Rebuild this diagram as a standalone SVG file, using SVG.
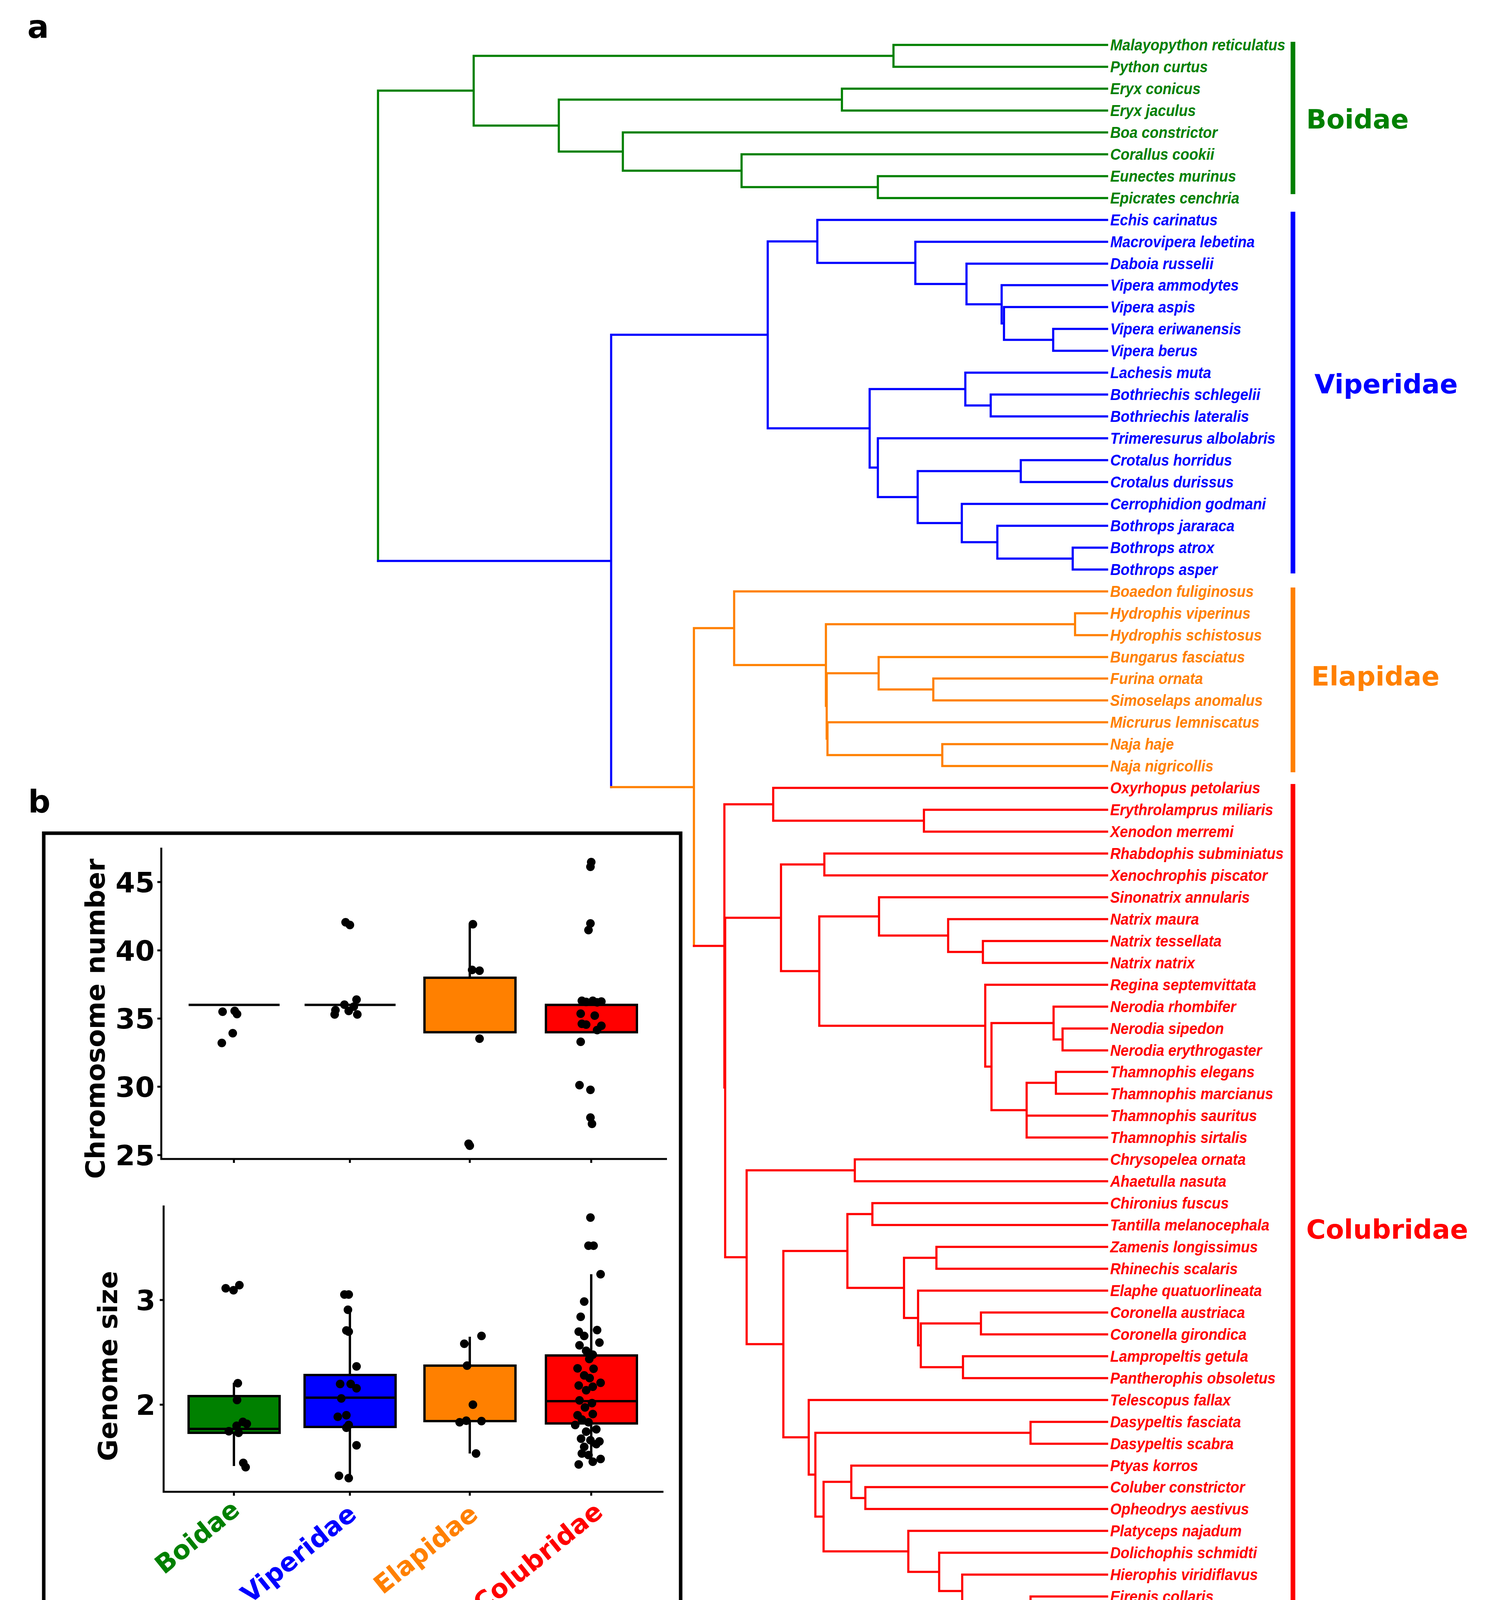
<svg xmlns="http://www.w3.org/2000/svg" width="3854" height="4402" viewBox="0 0 3854 4402">
<style>
.br{fill:none;stroke-width:5.5;stroke-linecap:square}
.g{stroke:#008000}.b{stroke:#0000FF}.o{stroke:#FF8000}.r{stroke:#FF0000}
.tip{font-family:"Liberation Sans",Arial,sans-serif;font-weight:bold;font-style:italic;font-size:40px}
.fam{font-family:"DejaVu Sans",sans-serif;font-weight:bold;font-size:68px}
.lab{font-family:"DejaVu Sans",sans-serif;font-weight:bold;fill:#000}
.ax{fill:none;stroke:#000;stroke-width:5}
.bx{stroke:#000;stroke-width:6}
.wh{stroke:#000;stroke-width:6;fill:none}
.pt circle{fill:#000}
.fg{fill:#008000}.fb{fill:#0000FF}.fo{fill:#FF8000}.fr{fill:#FF0000}
</style>
<rect width="3854" height="4402" fill="#fff"/>
<text class="lab" x="70" y="97" font-size="82">a</text>
<text class="lab" x="72" y="2080" font-size="80">b</text>

<g id="connectors">
<path class="br g" d="M968,232V1436 M968,232H1213 M1213,143V321.5 M1213,143H2288 M1213,321.5H1431 M2288,115V171 M2288,115H2835 M2288,171H2835 M1431,255V388 M1431,255H2156 M1431,388H1595 M2156,227V283 M2156,227H2835 M2156,283H2835 M1595,339V437 M1595,339H2835 M1595,437H1899 M1899,395V479 M1899,395H2835 M1899,479H2248 M2248,451V507 M2248,451H2835 M2248,507H2835"/>
<path class="br b" d="M968,1436H1565 M1565,857V2015 M1565,857H1966 M1966,618V1096.5 M1966,618H2093 M1966,1096.5H2227 M2093,563V673 M2093,563H2835 M2093,673H2344 M2344,619V727 M2344,619H2835 M2344,727H2475 M2475,675V779 M2475,675H2835 M2475,779H2565 M2565,730V828 M2565,730H2835 M2565,828H2571 M2571,786V870 M2571,786H2835 M2571,870H2697 M2697,842V898 M2697,842H2835 M2697,898H2835 M2227,996V1197 M2227,996H2472 M2227,1197H2248 M2472,954V1038 M2472,954H2835 M2472,1038H2537 M2537,1010V1066 M2537,1010H2835 M2537,1066H2835 M2248,1122V1272.5 M2248,1122H2835 M2248,1272.5H2350 M2350,1206V1339 M2350,1206H2614 M2350,1339H2463 M2614,1178V1234 M2614,1178H2835 M2614,1234H2835 M2463,1290V1388 M2463,1290H2835 M2463,1388H2554 M2554,1346V1430 M2554,1346H2835 M2554,1430H2747 M2747,1402V1458 M2747,1402H2835 M2747,1458H2835"/>
<path class="br o" d="M1565,2015H1777 M1777,1608V2421.5 M1777,1608H1880 M1880,1514V1702.5 M1880,1514H2835 M1880,1702.5H2115 M2115,1598V1807 M2115,1598H2753 M2115,1807H2117 M2753,1570V1626 M2753,1570H2835 M2753,1626H2835 M2117,1723.5V1891 M2117,1723.5H2250 M2117,1891H2119 M2250,1682V1765 M2250,1682H2835 M2250,1765H2390 M2390,1737V1793 M2390,1737H2835 M2390,1793H2835 M2119,1849V1933 M2119,1849H2835 M2119,1933H2413 M2413,1905V1961 M2413,1905H2835 M2413,1961H2835"/>
<path class="br r" d="M1777,2421.5H1855 M1855,2059V2784 M1855,2059H1980 M1855,2784H1857 M1857,2349.5V3218.5 M1857,2349.5H2000 M1857,3218.5H1912 M1980,2017V2101 M1980,2017H2835 M1980,2101H2366 M2366,2073V2129 M2366,2073H2835 M2366,2129H2835 M2000,2213V2486 M2000,2213H2111 M2000,2486H2098 M2111,2185V2241 M2111,2185H2835 M2111,2241H2835 M2098,2346V2626 M2098,2346H2251 M2098,2626H2523 M2251,2297V2395 M2251,2297H2835 M2251,2395H2428 M2428,2353V2437 M2428,2353H2835 M2428,2437H2517 M2517,2409V2465 M2517,2409H2835 M2517,2465H2835 M2523,2521V2730.5 M2523,2521H2835 M2523,2730.5H2539 M2539,2619V2842 M2539,2619H2698 M2539,2842H2629 M2698,2577V2661 M2698,2577H2835 M2698,2661H2721 M2721,2633V2689 M2721,2633H2835 M2721,2689H2835 M2629,2772V2912 M2629,2772H2704 M2629,2856H2835 M2629,2912H2835 M2704,2744V2800 M2704,2744H2835 M2704,2800H2835 M1912,2996V3441 M1912,2996H2189 M1912,3441H2006 M2189,2968V3024 M2189,2968H2835 M2189,3024H2835 M2006,3202.5V3679.5 M2006,3202.5H2170 M2006,3679.5H2071 M2170,3108V3297 M2170,3108H2234 M2170,3297H2315 M2234,3080V3136 M2234,3080H2835 M2234,3136H2835 M2315,3220V3374 M2315,3220H2398 M2315,3374H2351 M2398,3192V3248 M2398,3192H2835 M2398,3248H2835 M2351,3304V3444 M2351,3304H2835 M2351,3444H2358 M2358,3388V3500 M2358,3388H2512 M2358,3500H2466 M2512,3360V3416 M2512,3360H2835 M2512,3416H2835 M2466,3472V3528 M2466,3472H2835 M2466,3528H2835 M2071,3584V3775 M2071,3584H2835 M2071,3775H2088 M2088,3668V3882.5 M2088,3668H2639 M2088,3882.5H2109 M2639,3640V3696 M2639,3640H2835 M2639,3696H2835 M2109,3793.5V3971.5 M2109,3793.5H2180 M2109,3971.5H2326 M2180,3752V3835 M2180,3752H2835 M2180,3835H2216 M2216,3807V3863 M2216,3807H2835 M2216,3863H2835 M2326,3919V4024 M2326,3919H2835 M2326,4024H2405 M2405,3975V4073 M2405,3975H2835 M2405,4073H2464 M2464,4031V4115 M2464,4031H2835 M2464,4115H2639 M2639,4087V4143 M2639,4087H2835 M2639,4143H2835"/>
</g>

<g id="tips" class="tip" transform="translate(2843,0) scale(0.93,1)">
<g class="fg">
<text x="0" y="129">Malayopython reticulatus</text>
<text x="0" y="185">Python curtus</text>
<text x="0" y="241">Eryx conicus</text>
<text x="0" y="297">Eryx jaculus</text>
<text x="0" y="353">Boa constrictor</text>
<text x="0" y="409">Corallus cookii</text>
<text x="0" y="465">Eunectes murinus</text>
<text x="0" y="521">Epicrates cenchria</text>
</g>
<g class="fb">
<text x="0" y="577">Echis carinatus</text>
<text x="0" y="633">Macrovipera lebetina</text>
<text x="0" y="689">Daboia russelii</text>
<text x="0" y="744">Vipera ammodytes</text>
<text x="0" y="800">Vipera aspis</text>
<text x="0" y="856">Vipera eriwanensis</text>
<text x="0" y="912">Vipera berus</text>
<text x="0" y="968">Lachesis muta</text>
<text x="0" y="1024">Bothriechis schlegelii</text>
<text x="0" y="1080">Bothriechis lateralis</text>
<text x="0" y="1136">Trimeresurus albolabris</text>
<text x="0" y="1192">Crotalus horridus</text>
<text x="0" y="1248">Crotalus durissus</text>
<text x="0" y="1304">Cerrophidion godmani</text>
<text x="0" y="1360">Bothrops jararaca</text>
<text x="0" y="1416">Bothrops atrox</text>
<text x="0" y="1472">Bothrops asper</text>
</g>
<g class="fo">
<text x="0" y="1528">Boaedon fuliginosus</text>
<text x="0" y="1584">Hydrophis viperinus</text>
<text x="0" y="1640">Hydrophis schistosus</text>
<text x="0" y="1696">Bungarus fasciatus</text>
<text x="0" y="1751">Furina ornata</text>
<text x="0" y="1807">Simoselaps anomalus</text>
<text x="0" y="1863">Micrurus lemniscatus</text>
<text x="0" y="1919">Naja haje</text>
<text x="0" y="1975">Naja nigricollis</text>
</g>
<g class="fr">
<text x="0" y="2031">Oxyrhopus petolarius</text>
<text x="0" y="2087">Erythrolamprus miliaris</text>
<text x="0" y="2143">Xenodon merremi</text>
<text x="0" y="2199">Rhabdophis subminiatus</text>
<text x="0" y="2255">Xenochrophis piscator</text>
<text x="0" y="2311">Sinonatrix annularis</text>
<text x="0" y="2367">Natrix maura</text>
<text x="0" y="2423">Natrix tessellata</text>
<text x="0" y="2479">Natrix natrix</text>
<text x="0" y="2535">Regina septemvittata</text>
<text x="0" y="2591">Nerodia rhombifer</text>
<text x="0" y="2647">Nerodia sipedon</text>
<text x="0" y="2703">Nerodia erythrogaster</text>
<text x="0" y="2758">Thamnophis elegans</text>
<text x="0" y="2814">Thamnophis marcianus</text>
<text x="0" y="2870">Thamnophis sauritus</text>
<text x="0" y="2926">Thamnophis sirtalis</text>
<text x="0" y="2982">Chrysopelea ornata</text>
<text x="0" y="3038">Ahaetulla nasuta</text>
<text x="0" y="3094">Chironius fuscus</text>
<text x="0" y="3150">Tantilla melanocephala</text>
<text x="0" y="3206">Zamenis longissimus</text>
<text x="0" y="3262">Rhinechis scalaris</text>
<text x="0" y="3318">Elaphe quatuorlineata</text>
<text x="0" y="3374">Coronella austriaca</text>
<text x="0" y="3430">Coronella girondica</text>
<text x="0" y="3486">Lampropeltis getula</text>
<text x="0" y="3542">Pantherophis obsoletus</text>
<text x="0" y="3598">Telescopus fallax</text>
<text x="0" y="3654">Dasypeltis fasciata</text>
<text x="0" y="3710">Dasypeltis scabra</text>
<text x="0" y="3766">Ptyas korros</text>
<text x="0" y="3821">Coluber constrictor</text>
<text x="0" y="3877">Opheodrys aestivus</text>
<text x="0" y="3933">Platyceps najadum</text>
<text x="0" y="3989">Dolichophis schmidti</text>
<text x="0" y="4045">Hierophis viridiflavus</text>
<text x="0" y="4101">Eirenis collaris</text>
<text x="0" y="4157">Eirenis punctatolineatus</text>
</g>
</g>

<g id="families">
<g id="fam-boidae"><rect class="fg" x="3305" y="107" width="12" height="390"/><text class="fam fg" x="3345" y="329">Boidae</text></g>
<g id="fam-viperidae"><rect class="fb" x="3305" y="542" width="12" height="926"/><text class="fam fb" x="3366" y="1007">Viperidae</text></g>
<g id="fam-elapidae"><rect class="fo" x="3305" y="1504" width="12" height="473"/><text class="fam fo" x="3358" y="1755">Elapidae</text></g>
<g id="fam-colubridae"><rect class="fr" x="3305" y="2007" width="12" height="2153"/><text class="fam fr" x="3345" y="3171">Colubridae</text></g>
</g>

<g id="time-axis">
<rect x="954" y="4216" width="1876" height="16" fill="#000"/>
<rect x="954.5" y="4224" width="11" height="63" fill="#000"/>
<rect x="1187.5" y="4224" width="11" height="69" fill="#000"/>
<rect x="1612.5" y="4224" width="11" height="65" fill="#000"/>
<rect x="2017.5" y="4224" width="11" height="66" fill="#000"/>
<rect x="2411.5" y="4224" width="11" height="63" fill="#000"/>
<rect x="2822" y="4224" width="12" height="68" fill="#000"/>
<g class="lab" font-size="70" text-anchor="middle">
<text x="936" y="4359">91</text>
<text x="1199" y="4359">80</text>
<text x="1624" y="4359">60</text>
<text x="2052" y="4359">40</text>
<text x="2460" y="4359">20</text>
<text x="2840" y="4359">0</text>
</g>
<text class="lab" x="2935" y="4269" font-size="70">Million years ago</text>
</g>

<g id="panel-b">
<rect x="112" y="2133" width="1631" height="1996" fill="none" stroke="#000" stroke-width="9"/>
<g id="chromosome-plot">
<path class="ax" d="M413,2170V2967H1708 M403,2258H413 M403,2433H413 M403,2607.5H413 M403,2782H413 M403,2957H413 M599,2967V2977 M896,2967V2977 M1203,2967V2977 M1514,2967V2977"/>
<g class="lab" font-size="72" text-anchor="end">
<text x="396" y="2284">45</text>
<text x="396" y="2459">40</text>
<text x="396" y="2633">35</text>
<text x="396" y="2808">30</text>
<text x="396" y="2983">25</text>
</g>
<text class="lab" font-size="68" text-anchor="middle" transform="translate(268,2608) rotate(-90)">Chromosome number</text>
<path class="wh" d="M483,2572.5H716 M780,2572.5H1013"/>
<rect class="bx fo" x="1087" y="2503" width="233" height="139.5"/>
<path class="wh" d="M1203,2503V2366"/>
<rect class="bx fr" x="1398" y="2572.5" width="233" height="70"/>
<g class="pt">
<circle cx="570" cy="2590" r="11"/><circle cx="601" cy="2588" r="11"/><circle cx="607" cy="2596" r="11"/><circle cx="596" cy="2645" r="11"/><circle cx="568" cy="2670" r="11"/>
<circle cx="885" cy="2361" r="11"/><circle cx="896" cy="2368" r="11"/><circle cx="859" cy="2586" r="11"/><circle cx="882" cy="2572" r="11"/><circle cx="893" cy="2588" r="11"/><circle cx="913" cy="2559" r="11"/><circle cx="915" cy="2597" r="11"/><circle cx="857" cy="2597" r="11"/><circle cx="906" cy="2577" r="11"/>
<circle cx="1211" cy="2366" r="11"/><circle cx="1209" cy="2483" r="11"/><circle cx="1228" cy="2485" r="11"/><circle cx="1228" cy="2659" r="11"/><circle cx="1200" cy="2928" r="11"/><circle cx="1203" cy="2933" r="11"/>
<circle cx="1514" cy="2207" r="11"/><circle cx="1512" cy="2219" r="11"/><circle cx="1512" cy="2364" r="11"/><circle cx="1507" cy="2381" r="11"/><circle cx="1490" cy="2562" r="11"/><circle cx="1501" cy="2565" r="11"/><circle cx="1518" cy="2562" r="11"/><circle cx="1529" cy="2566" r="11"/><circle cx="1540" cy="2564" r="11"/><circle cx="1487" cy="2595" r="11"/><circle cx="1523" cy="2600" r="11"/><circle cx="1490" cy="2621" r="11"/><circle cx="1501" cy="2623" r="11"/><circle cx="1540" cy="2626" r="11"/><circle cx="1529" cy="2637" r="11"/><circle cx="1487" cy="2667" r="11"/><circle cx="1484" cy="2778" r="11"/><circle cx="1512" cy="2790" r="11"/><circle cx="1512" cy="2861" r="11"/><circle cx="1516" cy="2877" r="11"/>
</g>
</g>
<g id="genome-plot">
<path class="ax" d="M419,3086V3819H1699 M409,3328H419 M409,3596H419 M599,3819V3829 M896,3819V3829 M1203,3819V3829 M1514,3819V3829"/>
<g class="lab" font-size="72" text-anchor="end">
<text x="398" y="3354">3</text>
<text x="398" y="3622">2</text>
</g>
<text class="lab" font-size="68" text-anchor="middle" transform="translate(300,3497) rotate(-90)">Genome size</text>
<path class="wh" d="M599,3574V3540 M599,3668V3753 M896,3520V3345 M896,3653V3780 M1203,3496V3422 M1203,3638V3721 M1514,3470V3262 M1514,3644V3746"/>
<rect class="bx fg" x="483" y="3574" width="233" height="94"/>
<path class="wh" d="M483,3658H716"/>
<rect class="bx fb" x="780" y="3520" width="233" height="133"/>
<path class="wh" d="M780,3578H1013"/>
<rect class="bx fo" x="1087" y="3496" width="233" height="142"/>
<rect class="bx fr" x="1398" y="3470" width="233" height="174"/>
<path class="wh" d="M1398,3587H1631"/>
<g class="pt">
<circle cx="578" cy="3298" r="11"/><circle cx="598" cy="3303" r="11"/><circle cx="613" cy="3290" r="11"/><circle cx="609" cy="3541" r="11"/><circle cx="607" cy="3584" r="11"/><circle cx="622" cy="3640" r="11"/><circle cx="632" cy="3645" r="11"/><circle cx="606" cy="3650" r="11"/><circle cx="586" cy="3664" r="11"/><circle cx="611" cy="3668" r="11"/><circle cx="623" cy="3745" r="11"/><circle cx="629" cy="3756" r="11"/>
<circle cx="882" cy="3314" r="11"/><circle cx="893" cy="3314" r="11"/><circle cx="891" cy="3353" r="11"/><circle cx="887" cy="3406" r="11"/><circle cx="893" cy="3409" r="11"/><circle cx="913" cy="3498" r="11"/><circle cx="871" cy="3543" r="11"/><circle cx="898" cy="3543" r="11"/><circle cx="913" cy="3554" r="11"/><circle cx="874" cy="3580" r="11"/><circle cx="865" cy="3627" r="11"/><circle cx="887" cy="3623" r="11"/><circle cx="893" cy="3648" r="11"/><circle cx="887" cy="3655" r="11"/><circle cx="913" cy="3700" r="11"/><circle cx="868" cy="3778" r="11"/><circle cx="893" cy="3784" r="11"/>
<circle cx="1233" cy="3420" r="11"/><circle cx="1189" cy="3440" r="11"/><circle cx="1196" cy="3496" r="11"/><circle cx="1211" cy="3596" r="11"/><circle cx="1177" cy="3641" r="11"/><circle cx="1194" cy="3637" r="11"/><circle cx="1233" cy="3638" r="11"/><circle cx="1219" cy="3721" r="11"/>
<circle cx="1512" cy="3117" r="11"/><circle cx="1507" cy="3189" r="11"/><circle cx="1520" cy="3189" r="11"/><circle cx="1538" cy="3262" r="11"/><circle cx="1496" cy="3332" r="11"/><circle cx="1487" cy="3371" r="11"/><circle cx="1529" cy="3405" r="11"/><circle cx="1482" cy="3409" r="11"/><circle cx="1496" cy="3420" r="11"/><circle cx="1535" cy="3437" r="11"/><circle cx="1484" cy="3444" r="11"/><circle cx="1501" cy="3458" r="11"/><circle cx="1518" cy="3468" r="11"/><circle cx="1509" cy="3479" r="11"/><circle cx="1479" cy="3503" r="11"/><circle cx="1520" cy="3504" r="11"/><circle cx="1496" cy="3521" r="11"/><circle cx="1510" cy="3528" r="11"/><circle cx="1482" cy="3547" r="11"/><circle cx="1538" cy="3540" r="11"/><circle cx="1518" cy="3550" r="11"/><circle cx="1501" cy="3559" r="11"/><circle cx="1484" cy="3585" r="11"/><circle cx="1516" cy="3592" r="11"/><circle cx="1498" cy="3603" r="11"/><circle cx="1479" cy="3623" r="11"/><circle cx="1518" cy="3620" r="11"/><circle cx="1490" cy="3634" r="11"/><circle cx="1507" cy="3641" r="11"/><circle cx="1473" cy="3648" r="11"/><circle cx="1527" cy="3659" r="11"/><circle cx="1501" cy="3665" r="11"/><circle cx="1488" cy="3683" r="11"/><circle cx="1535" cy="3690" r="11"/><circle cx="1512" cy="3687" r="11"/><circle cx="1496" cy="3704" r="11"/><circle cx="1527" cy="3697" r="11"/><circle cx="1490" cy="3721" r="11"/><circle cx="1507" cy="3725" r="11"/><circle cx="1538" cy="3735" r="11"/><circle cx="1482" cy="3749" r="11"/><circle cx="1518" cy="3742" r="11"/>
</g>
</g>
<g id="categories" class="lab" font-size="66" text-anchor="end">
<text class="fg" transform="translate(618,3872) rotate(-39)">Boidae</text>
<text class="fb" transform="translate(917,3883) rotate(-39)">Viperidae</text>
<text class="fo" transform="translate(1228,3883) rotate(-39)">Elapidae</text>
<text class="fr" transform="translate(1548,3877) rotate(-39)">Colubridae</text>
</g>
</g>
</svg>
